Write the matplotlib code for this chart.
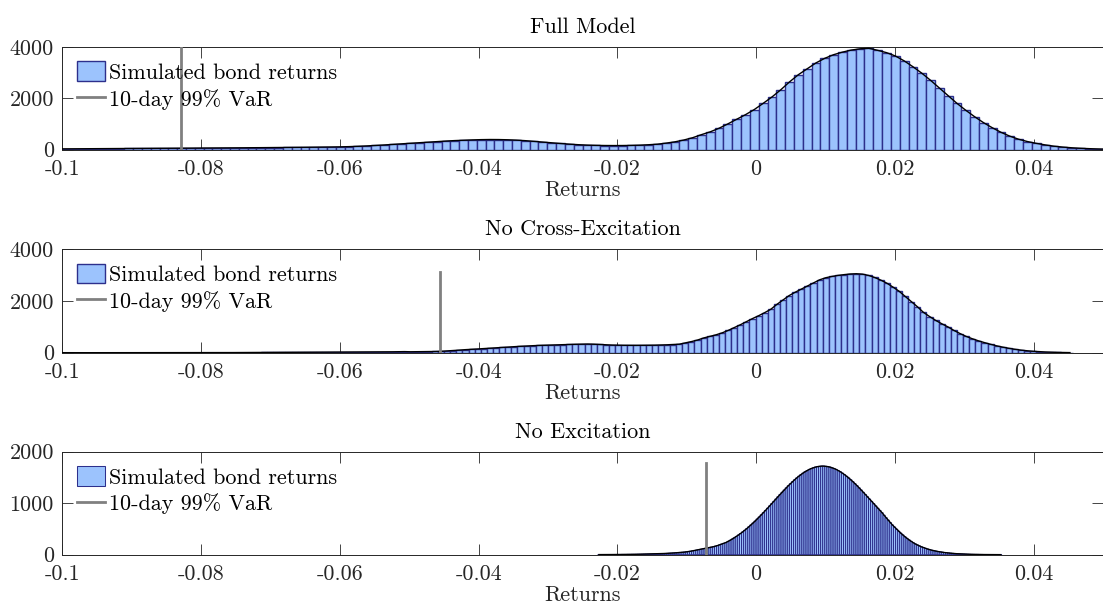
import numpy as np
import matplotlib
matplotlib.use("Agg")
import matplotlib.pyplot as plt

plt.rcParams['font.family'] = 'serif'
plt.rcParams['font.serif'] = ['cmr10', 'DejaVu Serif']
plt.rcParams['axes.unicode_minus'] = False

# ---------------- data ----------------
titles = ["Full Model", "No Cross-Excitation", "No Excitation"]
legend_labels = ["Simulated bond returns", "10-day 99% VaR"]
x_ticks = [-0.1, -0.08, -0.06, -0.04, -0.02, 0.0, 0.02, 0.04]
x_tick_labels = ["-0.1", "-0.08", "-0.06", "-0.04", "-0.02", "0", "0.02", "0.04"]
y_ticks_12 = [0, 2000, 4000]
y_ticks_3 = [0, 1000, 2000]

# Full model histogram (bin start, bin width, counts)
full_start = -0.10122
full_width = 0.00127
full_counts = [
    24, 26, 28, 30, 32, 34, 36, 38, 40,
    42, 44, 46, 48, 50, 52, 54, 57,
    59, 61, 63, 65, 67, 70, 72, 75,
    78, 81, 84, 87, 91, 95, 99, 104,
    112, 125, 140, 158, 178, 200, 222,
    244, 265, 287, 308, 330, 348, 362, 375,
    385, 390, 388, 380, 366, 345, 318, 290,
    262, 235, 210, 188, 172, 162, 156, 154,
    155, 160, 170, 186, 208, 250, 300, 370,
    460, 580, 690, 830, 1000, 1180, 1360, 1560,
    1800, 2050, 2330, 2640, 2920, 3150, 3380, 3560,
    3700, 3800, 3880, 3930, 3950, 3870, 3780, 3650,
    3460, 3230, 2980, 2700, 2400, 2100, 1800, 1530,
    1280, 1050, 850, 670, 520, 400, 310, 240,
    180, 130, 95, 68, 48, 33, 22, 14,
]
full_var = -0.0829
full_var_height = 4000

# No cross-excitation histogram
nocross_start = -0.1004
nocross_width = 0.00088
nocross_counts = [
    1, 0, 1, 1, 0, 1, 1, 1, 1, 1, 1, 1, 2, 1, 2, 2, 2, 2, 2, 3, 3, 3, 3,
    3, 4, 4, 4, 5, 5, 6, 6, 7, 7, 8, 8,
    9, 10, 11, 12, 13, 14, 15, 16, 17, 18, 19,
    20, 21, 22, 24, 26, 28, 30, 32, 35, 38, 42,
    36, 38, 40, 43, 47, 55, 68, 85, 102, 118, 130,
    145, 160, 175, 190, 205, 220, 235, 248, 260, 272, 282, 290,
    298, 306, 313, 320, 326, 332, 336, 330, 318, 305, 296,
    290, 287, 285, 285, 286, 288, 292, 298, 306, 316, 330,
    380, 430, 490, 570, 630, 690, 765, 860, 970, 1080, 1200, 1320,
    1430, 1550, 1680, 1870, 2040, 2210, 2340, 2460, 2580, 2700, 2820, 2900,
    2950, 2990, 3020, 3045, 3055, 3040, 2990, 2910, 2810, 2690, 2540, 2380,
    2180, 1980, 1780, 1560, 1400, 1250, 1120, 1000, 860, 740, 630, 540,
    460, 390, 325, 265, 215, 170, 132, 100, 75, 55, 40, 28, 19, 12, 7, 4,
]
nocross_var = -0.04557
nocross_var_height = 3120

# No excitation histogram
noexc_start = -0.0228
noexc_width = 0.0003
noexc_counts = [
    2, 2, 2, 2, 3, 3, 3, 3, 4, 4, 4, 5, 5, 5, 6, 6, 7, 7, 8, 9, 9, 10,
    11, 12, 13, 14, 15, 16, 18, 19, 21, 22, 24, 26, 29, 31, 34, 37, 40, 43, 46, 50,
    55, 62, 67, 75, 81, 90, 98, 106, 115, 122, 130, 137, 145, 155, 166, 178, 192, 206, 220, 236,
    257, 279, 303, 328, 354, 382, 411, 441, 473, 506,
    541, 577, 614, 652, 692, 732, 774, 816, 859, 902,
    947, 991, 1035, 1080, 1125, 1169, 1212, 1256, 1298, 1340,
    1379, 1418, 1455, 1490, 1523, 1554, 1583, 1610, 1633, 1655,
    1673, 1688, 1701, 1710, 1716, 1720,
    1720, 1716, 1710, 1701, 1688, 1673, 1655, 1633, 1610, 1583,
    1554, 1523, 1490, 1455, 1418, 1379, 1340, 1298, 1256, 1212,
    1169, 1125, 1080, 1035, 991, 947, 902, 859, 816, 766,
    717, 671, 623, 577, 537, 495, 455, 419, 384, 349,
    317, 287, 259, 233, 209, 189, 170, 152, 137, 122,
    109, 97, 86, 77, 68, 61, 54, 48, 42, 37,
    33, 29, 25, 22, 19, 17, 15, 13, 11, 9,
    8, 7, 6, 5, 5, 4, 4, 3, 3, 2, 2, 2, 1, 1, 1, 1,
]
noexc_var = -0.0072
noexc_var_height = 1780

panels = [
    (full_start, full_width, full_counts, full_var, full_var_height, y_ticks_12, 4000, 1.0, True),
    (nocross_start, nocross_width, nocross_counts, nocross_var, nocross_var_height, y_ticks_12, 4000, 1.0, True),
    (noexc_start, noexc_width, noexc_counts, noexc_var, noexc_var_height, y_ticks_3, 2000, 0.75, False),
]

# ---------------- styling ----------------
FS = 15.9
face = '#9cc3fd'
edge = '#2d2f8c'
axcol = '#262626'

fig = plt.figure(figsize=(11.03, 6.16), dpi=100)
W, H = 1103.0, 616.0
left = 62.3 / W
width = 1.0 - left
boxes = [(47.0, 149.5), (249.3, 352.7), (451.7, 554.7)]

for i, (start, bw, counts, var_x, var_h, yt, ymax, elw, snap) in enumerate(panels):
    top_px, bot_px = boxes[i]
    ax = fig.add_axes([left, 1 - bot_px / H, width, (bot_px - top_px) / H])
    counts = np.asarray(counts, dtype=float)
    centers = start + bw * (np.arange(len(counts)) + 0.5)
    bars = ax.bar(centers, counts, width=bw, align='center', color=face,
                  edgecolor=edge, linewidth=elw, zorder=2)
    if not snap:
        for p in bars.patches:
            p.set_snap(False)
    ax.plot(centers, counts, color='black', lw=1.0, zorder=3)
    var_line, = ax.plot([var_x, var_x], [0, var_h], color='#808080', lw=2.0, zorder=4)

    ax.set_xlim(-0.1, 0.05)
    ax.set_ylim(0, ymax)
    ax.set_xticks(x_ticks)
    ax.set_xticklabels(x_tick_labels)
    ax.set_yticks(yt)
    ax.set_yticklabels([str(v) for v in yt])
    ax.tick_params(direction='in', length=8, width=0.6, colors=axcol,
                   labelsize=FS, top=True, right=True, pad=7)
    ax.tick_params(axis='y', pad=6)
    for s in ax.spines.values():
        s.set_color(axcol)
        s.set_linewidth(0.7)
    ax.set_title(titles[i], fontsize=FS, color='black', pad=10)
    ax.set_xlabel("Returns", fontsize=FS, color=axcol, labelpad=1)
    ax.legend([bars, var_line], legend_labels, loc='upper left', frameon=False,
              fontsize=FS, handlelength=1.3, handleheight=1.0, handletextpad=0.15,
              labelspacing=0.25, borderaxespad=0.3, borderpad=0.35)

fig.savefig("out.png", dpi=100)
